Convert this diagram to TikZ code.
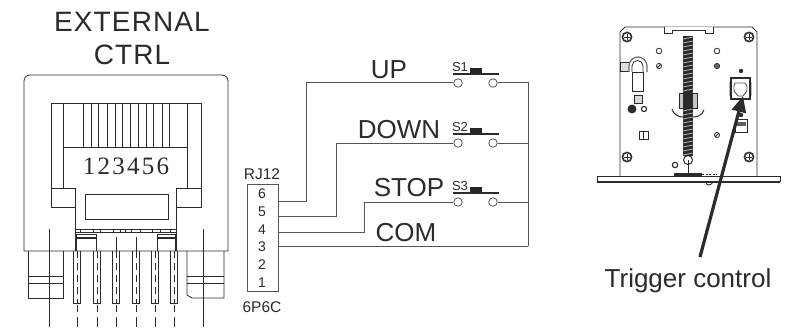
\documentclass[tikz,border=0pt]{standalone}
\usepackage{fontspec}
\setmainfont{Liberation Sans}
\newfontfamily\titlefont[LetterSpace=4]{Liberation Sans}
\newfontfamily\digitfont[LetterSpace=9]{Liberation Serif}
\usepackage{tikz}
\usetikzlibrary{arrows.meta}
\definecolor{ink}{HTML}{2B2B2B}
\definecolor{wirecol}{HTML}{555555}
\tikzset{
  part/.style={draw=ink, line width=.8pt},
  wire/.style={draw=wirecol, line width=1pt},
  contact/.style={circle, draw=wirecol, fill=white, line width=.8pt, minimum size=8.5pt, inner sep=0pt},
  biglabel/.style={text=ink, inner sep=0pt, font=\fontsize{26}{28}\selectfont},
  titlelabel/.style={text=ink, inner sep=0pt, font=\titlefont\fontsize{28}{30}\selectfont},
  smalllabel/.style={text=ink, inner sep=0pt, font=\fontsize{15.5}{16}\selectfont},
  pinlabel/.style={text=ink, inner sep=0pt, font=\fontsize{14}{15}\selectfont},
  swlabel/.style={text=ink, inner sep=0pt, font=\fontsize{13}{14}\selectfont},
}
\def\pushswitch#1#2#3{
\begin{scope}[shift={(0,#2)}]
    \node[contact] (#1a) at (458,0) {};
    \node[contact] (#1b) at (493,0) {};
    \draw[ink, line width=2pt] (453,-9) -- (499,-9);
    \fill[black!85] (470,-15) rectangle (482,-9);
    \node[swlabel] (#1lab) at (460,-16) {#3};
\end{scope}
}
\def\screw#1{
    \draw[line width=1.6pt, ink] #1 circle (4.6pt);
    \draw[line width=.8pt, ink] #1 ++(-3,0) -- ++(6,0) #1 ++(0,-3) -- ++(0,6);
}
\begin{document}
\begin{tikzpicture}[x=1pt, y=-1pt]
    \useasboundingbox (0,0) rectangle (798,329);
    \fill[white] (0,0) rectangle (798,329);

    \node[titlelabel] (exttitle) at (132,22) {EXTERNAL};
    \node[titlelabel] (ctrltitle) at (132,55) {CTRL};

    % jack body
    \draw[part] (228,251) -- (24,251) -- (24,81) arc (180:90:6pt) -- (222,75) arc (90:0:6pt) -- cycle;
    \draw[part] (51,188) -- (51,103) -- (201,103) -- (201,188);
    \draw[part] (63,188) -- (63,103) (187,188) -- (187,103);
    \draw[part] (63,147) -- (187,147);
    \foreach \x in {83,91,98,107,115,122,130,138,146,153,162,169}
        \draw[part, line width=.7pt] (\x,103) -- (\x,147);
    \node[text=ink, inner sep=0pt, font=\digitfont\fontsize{25}{26}\selectfont] (jackdigits) at (126,166) {123456};
    \draw[part] (51,188) rectangle (75,207);
    \draw[part] (176,188) rectangle (201,207);
    \draw[part] (75,207) -- (75,251) (176,207) -- (176,251);
    \draw[part] (85,194) rectangle (168,219);
    \draw[part] (75,229) -- (176,229) (75,232) -- (176,232);
    \foreach \x in {80,93,100,113,120,125,131,140,152,160,170}
        \draw[ink, line width=.6pt] (\x,229) -- (\x,232);
    \draw[part] (76,251) -- (76,234) -- (96,234) -- (96,251);
    \draw[part] (157,251) -- (157,234) -- (175,234) -- (175,251);
    \draw[ink, line width=1.2pt] (76,238) -- (96,238) (157,238) -- (175,238);

    % legs
    \draw[part] (28,251) -- (28,298) -- (63,298) -- (63,251);
    \draw[part] (187,251) -- (187,295) -- (192,298) -- (224,298) -- (224,251);
    \draw[part] (28,276) -- (63,276) (28,283) -- (63,283);
    \draw[part] (187,276) -- (224,276) (187,283) -- (224,283);
    \draw[ink, line width=.7pt] (49,229) -- (49,327);
    \draw[ink, line width=.7pt] (203,229) -- (203,327);
    \foreach \x in {77,97,116,136,155,174} {
        \draw[part] (\x-3.7,251) -- (\x-3.7,303) -- (\x+3.7,303) -- (\x+3.7,251);
        \draw[ink, line width=.7pt, dash pattern=on 7pt off 5pt] (\x,251) -- (\x,303);
        \draw[ink, line width=.7pt] (\x,305) -- (\x,312) (\x,317) -- (\x,327);
    }
    \draw[ink, line width=.7pt] (116,237) -- (116,251) (136,237) -- (136,251);

    % schematic
    \node[smalllabel] (rjlabel) at (262,174) {RJ12};
    \node[smalllabel] (plabel) at (262,307) {6P6C};
    \node[draw=wirecol, line width=1pt, minimum width=31pt, minimum height=107pt, inner sep=0pt] (rjbox) at (262.5,237.5) {};
    \foreach \n/\y in {6/194,5/212,4/230,3/247,2/265,1/283}
        \node[pinlabel] (pin\n) at (262,\y) {\n};
    \coordinate (rj6) at (278,201);
    \coordinate (rj5) at (278,216);
    \coordinate (rj4) at (278,232);
    \coordinate (rj3) at (278,246);
    \coordinate (bus) at (528,246);

    \pushswitch{sa}{83}{S1}
    \pushswitch{sb}{143}{S2}
    \pushswitch{sc}{202}{S3}

    \draw[wire] (rj6) -| (306,83) -- (saa);
    \draw[wire] (rj5) -| (336,143) -- (sba);
    \draw[wire] (rj4) -| (364,202) -- (sca);
    \draw[wire] (rj3) -- (bus);
    \draw[wire] (sab) -| (bus);
    \draw[wire] (sbb) -- (528,143);
    \draw[wire] (scb) -- (528,202);

    \node[biglabel] (uplabel) at (389,70) {UP};
    \node[biglabel] (downlabel) at (399,130) {DOWN};
    \node[biglabel] (stoplabel) at (409,188) {STOP};
    \node[biglabel] (comlabel) at (406,233) {COM};

    % device
    \draw[part] (620,176) -- (620,32) -- (625,27) -- (752,27) -- (757,32) -- (757,176);
    \draw[part, fill=white] (664,27) -- (664,33) -- (672,33) -- (672,30) -- (705,30) -- (705,33) -- (713,33) -- (713,27);
    \fill[ink] (683,36) rectangle (693,156);
    \foreach \y in {38,42,...,154}
        \draw[white!75!black, line width=.7pt] (683,\y+1) -- (693,\y-1);
    \draw[ink, line width=.8pt, fill=gray!45] (679,93) rectangle (697,108);
    \fill[ink] (683,93) rectangle (693,108);
    \draw[ink, line width=1pt] (672,109) .. controls (674,116) and (680,117) .. (683,117);
    \draw[ink, line width=1pt] (704,110) .. controls (702,116) and (696,117) .. (693,117);
    \screw{(627,37)}
    \screw{(749,37)}
    \screw{(627,157)}
    \screw{(749,157)}
    \draw[part] (659,51) circle (2.8pt);
    \draw[part] (717,51) circle (2.8pt);
    \draw[part] (659,66) circle (2.6pt) (657.5,67.5) -- (660.5,64.5);
    \draw[part, fill=ink!70] (717,66) circle (2.6pt);
    \draw[part] (717,135) circle (2.6pt) (715.5,136.5) -- (718.5,133.5);

    % keyhole
    \draw[part, fill=gray!25] (620,62) rectangle (630,71);
    \draw[ink!70, line width=1.2pt, fill=white] (629,72) -- (629,66) arc (180:0:9pt) -- (647,72);
    \draw[part] (632,72) -- (632,66) arc (180:0:5.5pt) -- (643,72);
    \draw[part] (632,72) rectangle (643,91);

    \draw[part, fill=gray!30] (634,95) rectangle (642,103);
    \draw[fill=ink, draw=ink] (632,109) circle (4.2pt);
    \draw[ink, line width=1.1pt] (644,109) circle (2.6pt);
    \draw[part] (639,131) rectangle (648,139) (643.5,131) -- (643.5,139);

    % bottom of spring
    \draw[ink, line width=1pt] (688,160) circle (4.5pt);
    \draw[ink, line width=1pt] (688,160) -- (688,175);
    \draw[ink, line width=1.1pt] (675,165) circle (2.7pt);
    \fill[ink] (674,173) rectangle (702,176);
    \draw[ink, line width=.8pt, dash pattern=on 2pt off 1.5pt] (702,174.5) -- (717,174.5);

    % flange
    \draw[ink, line width=.9pt] (706,182) .. controls (706,186) and (711,186) .. (713,182);
    \draw[ink, line width=.9pt, fill=white] (597,176) -- (780,176) -- (780,181) -- (597,181) -- cycle;
    \draw[ink, line width=1.8pt] (597,182) -- (780,182);

    % port on the right
    \fill[ink] (741,71) circle (2.2pt);
    \fill[ink] (741,106) circle (2.2pt);
    \fill[ink] (741,115) circle (2.2pt);
    \fill[gray!55] (729,82) rectangle (752,96);
    \draw[ink, line width=1.2pt, fill=white] (731,78) rectangle (750,99);
    \draw[ink!80, line width=.9pt] (735,83) -- (745,83) -- (747,86) -- (747,91) -- (743,96) -- (738,96) -- (734,91) -- (734,86) -- cycle;
    \draw[part] (735,119) rectangle (747,132);
    \fill[ink!75] (736,122) rectangle (746,126);

    \node[biglabel] (triglabel) at (688,281) {Trigger control};
    \coordinate (trigtip) at (743,96);
    \coordinate (trigfoot) at (700,257);
    \draw[ink, line width=3.2pt, -{Triangle[length=16pt,width=14pt]}] (trigfoot) -- (trigtip);
\end{tikzpicture}
\end{document}
